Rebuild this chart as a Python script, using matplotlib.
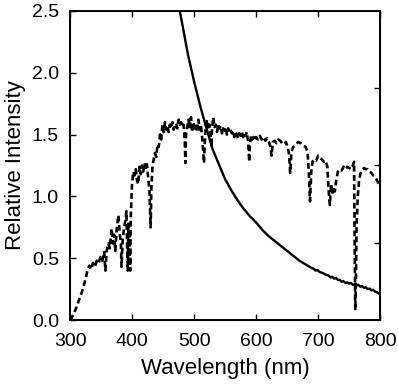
import matplotlib

matplotlib.use("Agg")
import matplotlib.pyplot as plt

plt.rcParams["font.family"] = ["Liberation Sans", "DejaVu Sans"]

# dashed spectrum
spec_wl = [
    300, 305, 310, 315, 320, 325, 328, 331, 334, 337, 340, 343, 346, 349, 352,
    355, 357, 359, 362, 364, 367, 369, 371, 373, 375, 378, 380, 382, 383, 385,
    387, 389, 391, 392, 393, 394, 396, 397, 398, 400, 402, 404, 406, 408, 410,
    412, 414, 416, 418, 420, 422, 424, 426, 428, 430, 431, 433, 435, 437, 439,
    441, 443, 445, 447, 449, 451, 453, 455, 457, 459, 461, 463, 465, 467, 469,
    471, 473, 475, 477, 479, 481, 483, 485, 486, 487, 489, 491, 493, 495, 497,
    499, 501, 503, 505, 507, 509, 511, 513, 515, 516, 517, 519, 521, 523, 525,
    527, 528, 529, 531, 533, 535, 537, 539, 541, 543, 545, 547, 549, 551, 553,
    555, 557, 559, 561, 563, 565, 567, 569, 571, 573, 575, 577, 579, 581, 583,
    585, 587, 589, 590, 592, 594, 596, 598, 600, 603, 606, 609, 612, 615, 618,
    621, 623, 625, 627, 630, 633, 636, 639, 642, 645, 648, 651, 653, 655, 657,
    660, 664, 668, 672, 676, 680, 683, 685, 687, 689, 691, 694, 697, 700, 703,
    706, 709, 712, 715, 717, 719, 721, 723, 725, 727, 729, 732, 735, 738, 741,
    744, 747, 750, 753, 756, 758, 759, 760, 761, 762, 764, 766, 768, 771, 774,
    777, 780, 783, 786, 789, 792, 795, 798, 800,
]
spec_val = [
    0.00, 0.04, 0.10, 0.17, 0.24, 0.33, 0.40, 0.44, 0.41, 0.46, 0.43, 0.48, 0.46, 0.51, 0.48,
    0.55, 0.40, 0.56, 0.62, 0.58, 0.74, 0.62, 0.69, 0.56, 0.72, 0.85, 0.70, 0.62, 0.43, 0.66,
    0.74, 0.80, 0.88, 0.60, 0.40, 0.78, 0.70, 0.40, 0.85, 1.10, 1.20, 1.17, 1.22, 1.13, 1.10,
    1.24, 1.18, 1.25, 1.20, 1.27, 1.22, 1.26, 1.15, 1.05, 0.75, 1.05, 1.25, 1.30, 1.35, 1.32,
    1.42, 1.40, 1.50, 1.46, 1.58, 1.52, 1.60, 1.54, 1.57, 1.52, 1.58, 1.55, 1.60, 1.54, 1.57,
    1.59, 1.55, 1.62, 1.58, 1.60, 1.56, 1.58, 1.45, 1.27, 1.50, 1.56, 1.62, 1.55, 1.64, 1.52,
    1.60, 1.55, 1.58, 1.52, 1.62, 1.54, 1.58, 1.48, 1.35, 1.27, 1.40, 1.58, 1.62, 1.54, 1.58,
    1.48, 1.40, 1.55, 1.64, 1.56, 1.58, 1.52, 1.58, 1.55, 1.57, 1.51, 1.55, 1.53, 1.56, 1.50,
    1.55, 1.52, 1.54, 1.51, 1.53, 1.48, 1.52, 1.50, 1.47, 1.51, 1.49, 1.52, 1.48, 1.51, 1.49,
    1.52, 1.45, 1.28, 1.42, 1.49, 1.46, 1.48, 1.45, 1.48, 1.46, 1.49, 1.46, 1.48, 1.45, 1.47,
    1.44, 1.40, 1.33, 1.44, 1.45, 1.43, 1.46, 1.45, 1.43, 1.42, 1.44, 1.40, 1.35, 1.19, 1.36,
    1.40, 1.42, 1.44, 1.43, 1.41, 1.40, 1.36, 1.20, 0.96, 1.20, 1.28, 1.30, 1.29, 1.33, 1.31,
    1.30, 1.28, 1.29, 1.24, 1.05, 0.93, 1.10, 1.02, 1.08, 1.04, 1.12, 1.20, 1.22, 1.21, 1.24,
    1.22, 1.24, 1.23, 1.22, 1.25, 1.28, 0.60, 0.08, 0.30, 0.75, 1.00, 1.12, 1.18, 1.21, 1.23,
    1.22, 1.22, 1.20, 1.19, 1.17, 1.16, 1.13, 1.10, 1.11,
]

# solid decaying curve
curve_wl = [
    450, 460, 470, 480, 490, 500, 510, 520, 530, 540, 550, 560, 570, 580, 590,
    600, 610, 620, 630, 640, 650, 660, 670, 680, 690, 693, 696, 699, 702, 705,
    708, 711, 714, 717, 720, 723, 726, 729, 732, 735, 738, 741, 744, 747, 750,
    753, 756, 759, 762, 765, 768, 771, 774, 777, 780, 783, 786, 789, 792, 795,
    798, 800,
]
curve_val = [
    3.40, 3.00, 2.68, 2.42, 2.15, 1.93, 1.73, 1.55, 1.38, 1.26, 1.14, 1.05, 0.97, 0.90, 0.84,
    0.79, 0.73, 0.68, 0.64, 0.60, 0.56, 0.52, 0.48, 0.45, 0.42, 0.415, 0.40, 0.405, 0.39, 0.385,
    0.38, 0.37, 0.365, 0.36, 0.345, 0.35, 0.335, 0.34, 0.325, 0.325, 0.31, 0.315, 0.30, 0.305, 0.295,
    0.30, 0.285, 0.29, 0.28, 0.285, 0.27, 0.275, 0.26, 0.265, 0.25, 0.255, 0.24, 0.245, 0.23, 0.225,
    0.215, 0.21,
]

x_ticks = [300, 400, 500, 600, 700, 800]
y_ticks = [0.0, 0.5, 1.0, 1.5, 2.0, 2.5]

fig = plt.figure(figsize=(3.98, 3.88), dpi=100)
ax = fig.add_axes([0.176, 0.175, 0.779, 0.797])

ax.plot(spec_wl, spec_val, color="black", lw=1.9, dashes=(2.2, 1.3))
ax.plot(curve_wl, curve_val, color="black", lw=1.7)

ax.set_xlim(300, 800)
ax.set_ylim(0, 2.5)
ax.set_xticks(x_ticks)
ax.set_yticks(y_ticks)
ax.set_yticklabels([f"{v:.1f}" for v in y_ticks])
ax.tick_params(direction="in", length=4.5, width=1.0, labelsize=14, top=True)
ax.tick_params(axis="x", pad=9)
ax.tick_params(axis="y", pad=8)
for s in ax.spines.values():
    s.set_linewidth(1.4)

ax.set_xlabel("Wavelength (nm)", fontsize=16, labelpad=6)
ax.set_ylabel("Relative Intensity", fontsize=16, labelpad=4)

# right-hand ticks on their own scale, unlabeled
ax2 = ax.twinx()
ax2.set_ylim(0, 4)
ax2.set_yticks([1, 2, 3])
ax2.set_yticklabels([])
ax2.tick_params(direction="in", length=4.5, width=1.0)

fig.savefig("out.png", dpi=100)
